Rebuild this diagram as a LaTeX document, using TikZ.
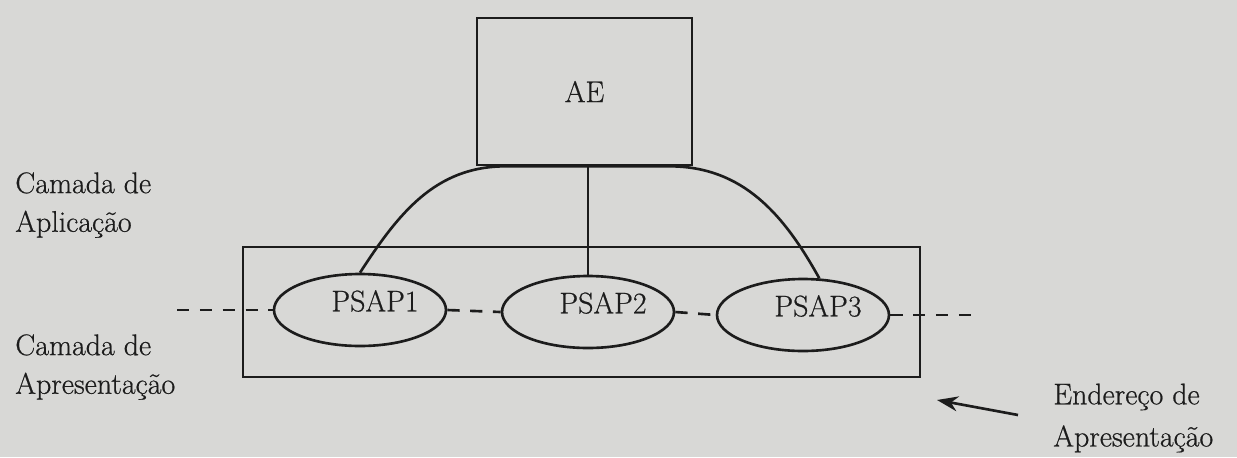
\documentclass[tikz,border=0pt]{standalone}
\usepackage{fontspec}
\setmainfont{Latin Modern Roman}[FakeBold=0.6]
\usetikzlibrary{shapes.geometric,arrows.meta}

\definecolor{paper}{RGB}{216,216,214}
\definecolor{ink}{RGB}{28,28,28}

\begin{document}
\begin{tikzpicture}[x=0.02cm, y=-0.02cm,
  txt/.style={font=\fontsize{17}{22}\selectfont, text=ink, inner sep=0pt},
  box/.style={draw=ink, line width=1.5pt, rectangle},
  sap/.style={draw=ink, line width=1.5pt, ellipse, minimum width=3.44cm, minimum height=1.44cm, inner sep=0pt},
  link/.style={draw=ink, line width=1.5pt},
  dashlink/.style={draw=ink, line width=1.5pt, dash pattern=on 7pt off 6pt}]

  \path[use as bounding box, fill=paper] (0,0) rectangle (1237,457);

  \node[box, txt, minimum width=4.3cm, minimum height=2.94cm] (ae) at (584.5,91.5) {AE};
  \node[box, minimum width=13.54cm, minimum height=2.6cm] (pres) at (581.5,312) {};

  \node[sap, label={[txt, xshift=0.3cm, yshift=0.18cm]center:PSAP1}] (p1) at (360,310) {};
  \node[sap, label={[txt, xshift=0.3cm, yshift=0.18cm]center:PSAP2}] (p2) at (588,312) {};
  \node[sap, label={[txt, xshift=0.3cm, yshift=0.18cm]center:PSAP3}] (p3) at (803,315) {};

  \node[txt, anchor=west, align=left] (app) at (15,205) {Camada de\\Aplicação};
  \node[txt, anchor=west, align=left] (apr) at (15,367) {Camada de\\Apresentação};
  \node[txt, anchor=west, align=left, font=\fontsize{17}{24}\selectfont] (addr) at (1053,418) {Endereço de\\Apresentação};

  \coordinate (arcl) at ([xshift=0.6cm]ae.south west);
  \coordinate (arcr) at ([xshift=-0.48cm]ae.south east);
  \coordinate (lend) at (177,310);
  \coordinate (rend) at (980,315);
  \coordinate (atail) at (1018,415);
  \coordinate (ahead) at (937,400);

  \draw[link] (p1.north) to[out=57,in=180] (arcl) -- (arcr) to[out=0,in=119] (p3.66);
  \draw[link] (p2.north) -- (p2.north |- ae.south);

  \draw[dashlink] (lend) -- (p1.west);
  \draw[dashlink] (p1.east) -- (p2.west);
  \draw[dashlink] (p2.east) -- (p3.west);
  \draw[dashlink] (p3.east) -- (rend);

  \draw[link, -{Stealth[length=0.42cm, width=0.3cm]}] (atail) -- (ahead);

\end{tikzpicture}
\end{document}
